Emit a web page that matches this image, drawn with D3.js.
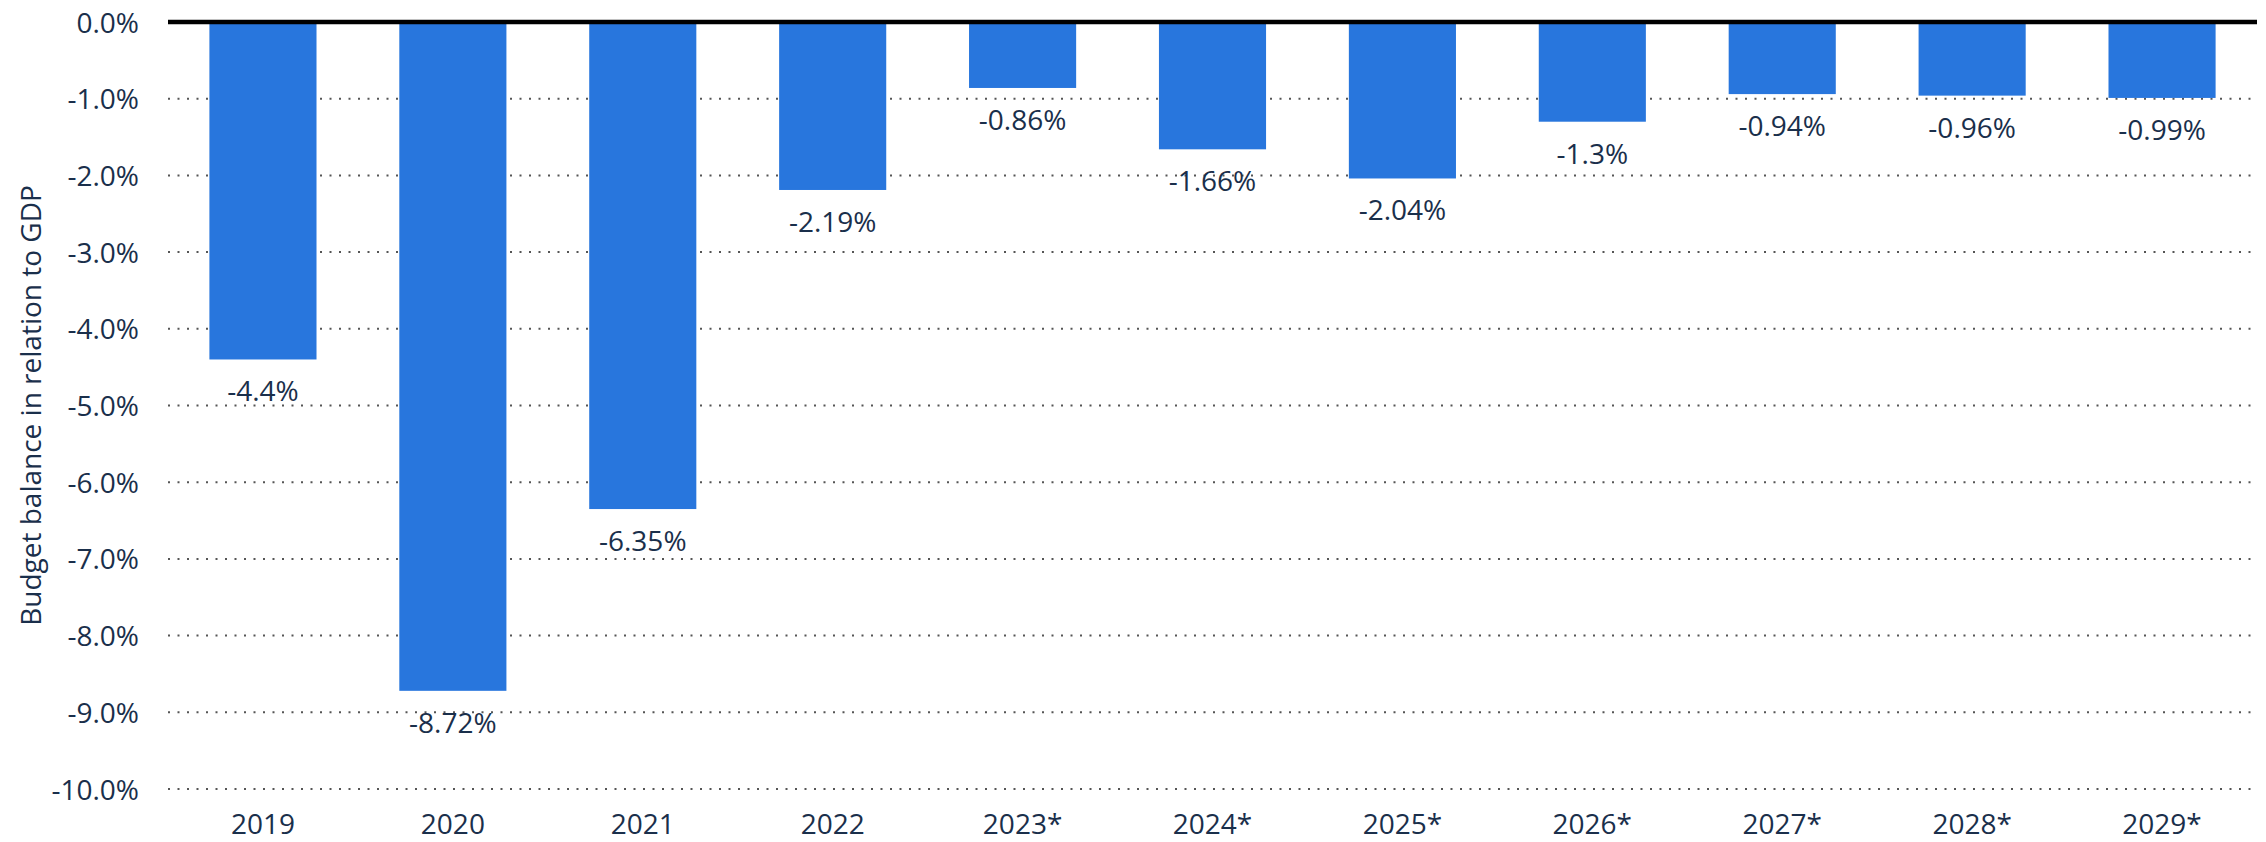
<!DOCTYPE html>
<html>
<head>
<meta charset="utf-8">
<script src="https://cdn.jsdelivr.net/npm/d3@7"></script>
<style>
  body { margin: 0; background: #fff; }
  text { font-family: "Open Sans", sans-serif; fill: #1a2f4b; }
</style>
</head>
<body>
<script>
// size of the picture
var width = 2266;
var height = 842;

var barColor = '#2876dd';

// data
var years = ["2019", "2020", "2021", "2022", "2023*", "2024*", "2025*", "2026*", "2027*", "2028*", "2029*"];
var balance = [-4.4, -8.72, -6.35, -2.19, -0.86, -1.66, -2.04, -1.3, -0.94, -0.96, -0.99];
var yTicks = [0, -1, -2, -3, -4, -5, -6, -7, -8, -9, -10];
var yTitle = "Budget balance in relation to GDP";

var margin = { top: 22, right: 9, bottom: 53, left: 168 };

var svg = d3.select("body")
    .append("svg")
    .attr("width", width)
    .attr("height", height);

var x = d3.scaleBand()
    .domain(years)
    .range([margin.left, width - margin.right])
    .paddingInner(0.436)
    .paddingOuter(0.218);

var y = d3.scaleLinear()
    .domain([0, -10])
    .range([margin.top, height - margin.bottom]);

// dotted grid lines (not at zero, that one is the solid baseline)
svg.append("g")
    .selectAll("line")
    .data(yTicks.filter(function (d) { return d !== 0; }))
    .enter()
    .append("line")
    .attr("x1", margin.left)
    .attr("x2", width - margin.right)
    .attr("y1", function (d) { return y(d); })
    .attr("y2", function (d) { return y(d); })
    .attr("stroke", "#555")
    .attr("stroke-width", 2)
    .attr("stroke-dasharray", "2 7.5");

// y axis labels
var yAxis = d3.axisLeft(y)
    .tickValues(yTicks)
    .tickSize(0)
    .tickPadding(0)
    .tickFormat(function (d) { return d.toFixed(1) + "%"; });

var gy = svg.append("g")
    .attr("transform", "translate(139,0)")
    .call(yAxis);
gy.select(".domain").remove();
gy.selectAll("text")
    .attr("font-size", 28)
    .attr("font-family", "Open Sans, sans-serif")
    .attr("fill", "#1a2f4b")
    .attr("dy", "0.36em");

// x axis labels
var xAxis = d3.axisBottom(x).tickSize(0).tickPadding(0);
var gx = svg.append("g")
    .attr("transform", "translate(0," + (height - 8) + ")")
    .call(xAxis);
gx.select(".domain").remove();
gx.selectAll("text")
    .attr("font-size", 28)
    .attr("font-family", "Open Sans, sans-serif")
    .attr("fill", "#1a2f4b")
    .attr("dy", 0)
    .attr("y", 0);

// bars
svg.selectAll("rect.bar")
    .data(balance)
    .enter()
    .append("rect")
    .attr("class", "bar")
    .attr("x", function (d, i) { return x(years[i]); })
    .attr("y", y(0))
    .attr("width", x.bandwidth())
    .attr("height", function (d) { return y(d) - y(0); })
    .style("fill", barColor);

// value labels under each bar
svg.selectAll("text.value")
    .data(balance)
    .enter()
    .append("text")
    .attr("class", "value")
    .attr("x", function (d, i) { return x(years[i]) + x.bandwidth() / 2; })
    .attr("y", function (d) { return y(d) + 42; })
    .attr("text-anchor", "middle")
    .attr("font-size", 28)
    .text(function (d) { return d + "%"; });

// zero baseline
svg.append("line")
    .attr("x1", margin.left)
    .attr("x2", width - margin.right)
    .attr("y1", y(0))
    .attr("y2", y(0))
    .attr("stroke", "#000")
    .attr("stroke-width", 4.5);

// y axis title
svg.append("text")
    .attr("transform", "translate(41," + ((margin.top + height - margin.bottom) / 2) + ") rotate(-90)")
    .attr("text-anchor", "middle")
    .attr("font-size", 28)
    .text(yTitle);
</script>
</body>
</html>
